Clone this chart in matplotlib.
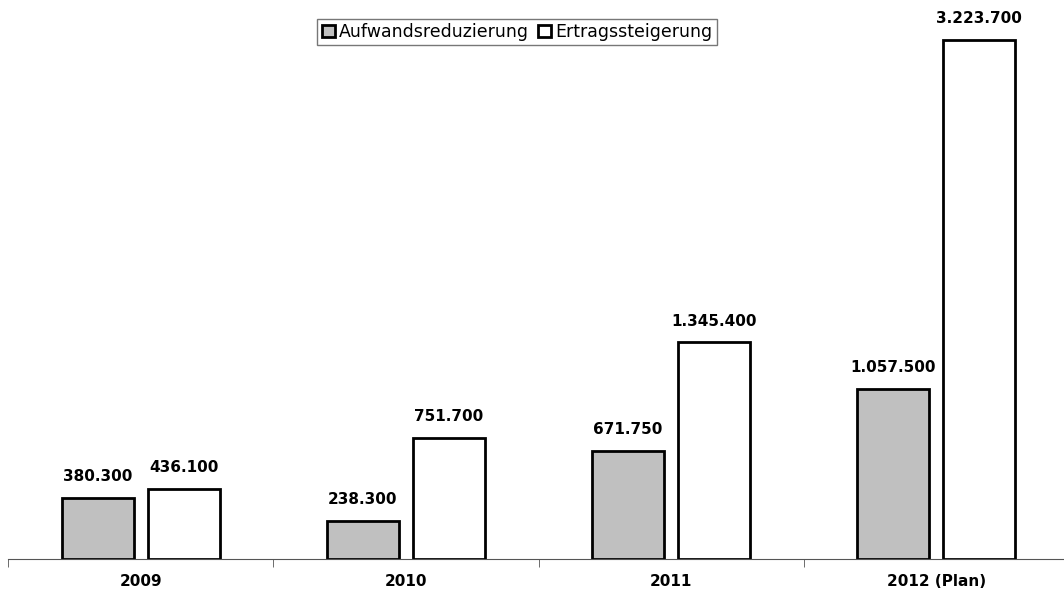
import matplotlib.pyplot as plt
from matplotlib.patches import Patch
import numpy as np

years = ["2009", "2010", "2011", "2012 (Plan)"]
aufwand = [380300, 238300, 671750, 1057500]
ertrag = [436100, 751700, 1345400, 3223700]

def fmt(v):
    return "{:,}".format(v).replace(",", ".")

W, H = 1064, 607
fig = plt.figure(figsize=(W / 100, H / 100), dpi=100)
# axes from x=8 to 1069 px, baseline at y=559
left, right, bottom, top = 8 / W, 1069 / W, (H - 559) / H, 1.0
ax = fig.add_axes([left, bottom, right - left, top - bottom])

x = np.arange(len(years))
w = 72 / 265.3
off = 43 / 265.3
ax.bar(x - off, aufwand, w, color="#c0c0c0", edgecolor="black", linewidth=2)
ax.bar(x + off, ertrag, w, color="white", edgecolor="black", linewidth=2)

for xi, v in zip(x - off, aufwand):
    ax.text(xi, v + 85000, fmt(v), ha="center", va="bottom", fontsize=11, fontweight="bold")
for xi, v in zip(x + off, ertrag):
    ax.text(xi, v + 85000, fmt(v), ha="center", va="bottom", fontsize=11, fontweight="bold")

ax.set_xlim(-0.5, len(years) - 0.5)
ax.set_ylim(0, 559 / 519 * 3223700)
for s in ["top", "right", "left"]:
    ax.spines[s].set_visible(False)
ax.spines["bottom"].set_color("#555555")
ax.set_yticks([])
ax.set_xticks(np.arange(len(years) + 1) - 0.5, minor=True)
ax.set_xticks(x)
ax.set_xticklabels(years, fontsize=11, fontweight="bold")
ax.tick_params(axis="x", which="major", length=0, pad=11)
ax.tick_params(axis="x", which="minor", length=6, color="#555555")

handles = [Patch(facecolor="#c0c0c0", edgecolor="black", linewidth=2, label="Aufwandsreduzierung"),
           Patch(facecolor="white", edgecolor="black", linewidth=2, label="Ertragssteigerung")]
leg = fig.legend(handles=handles, loc="center", bbox_to_anchor=(517 / W, 1 - 32 / H), ncol=2,
                 fontsize=12.5, frameon=True, fancybox=False, handlelength=0.75, handleheight=0.75,
                 handletextpad=0.25, columnspacing=0.5, borderpad=0.25, borderaxespad=0)
leg.get_frame().set_edgecolor("#555555")
leg.get_frame().set_linewidth(1)

fig.savefig("out.png", dpi=100)
